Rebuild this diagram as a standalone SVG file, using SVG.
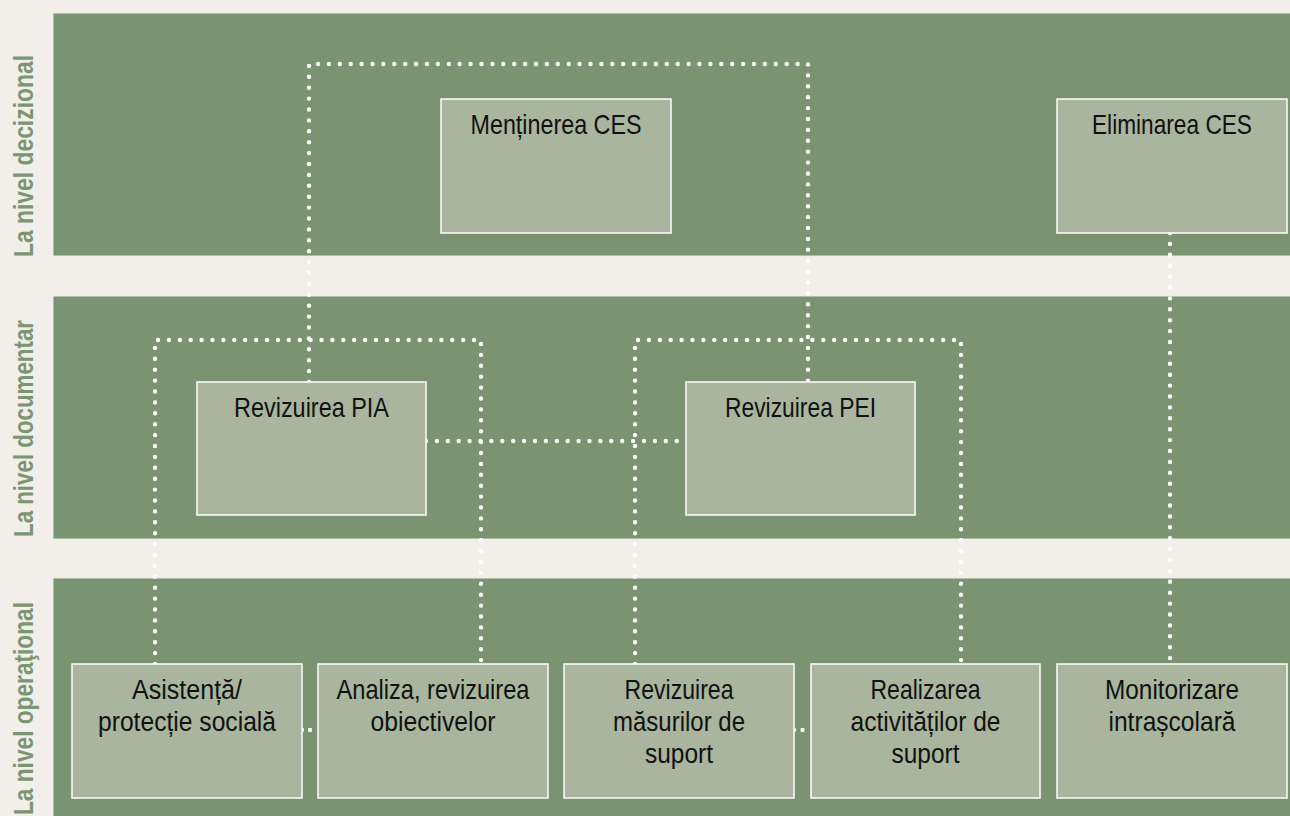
<svg xmlns="http://www.w3.org/2000/svg" width="1290" height="816" viewBox="0 0 1290 816">
  <style>
    .band { fill: #7a9370; stroke: #e9ebe4; stroke-width: 1; }
    .lbl { font-family: "Liberation Sans Narrow", "Liberation Sans", "DejaVu Sans Condensed", sans-serif; font-weight: bold; font-size: 28px; fill: #7d9672; }
    .box { fill: #a9b59d; stroke: #ffffff; stroke-width: 1.5; }
    .t { font-family: "Liberation Sans Narrow", "Liberation Sans", "DejaVu Sans Condensed", sans-serif; font-size: 27.5px; fill: #111111; text-anchor: middle; }
    .dot { fill: none; stroke: #ffffff; stroke-width: 4.4; stroke-linecap: round; stroke-dasharray: 0 10.9; }
  </style>
  <rect x="0" y="0" width="1290" height="816" fill="#f2efea"/>

  <g id="bands">
    <rect class="band" x="53" y="13" width="1240" height="243"/>
    <rect class="band" x="53" y="296" width="1240" height="243"/>
    <rect class="band" x="53" y="578" width="1240" height="245"/>
  </g>

  <g id="labels">
    <text class="lbl" transform="translate(33,257) rotate(-90)" textLength="202" lengthAdjust="spacingAndGlyphs">La nivel decizional</text>
    <text class="lbl" transform="translate(33,537) rotate(-90)" textLength="217" lengthAdjust="spacingAndGlyphs">La nivel documentar</text>
    <text class="lbl" transform="translate(33,815) rotate(-90)" textLength="213" lengthAdjust="spacingAndGlyphs">La nivel operaţional</text>
  </g>

  <g id="connectors">
    <path class="dot" d="M309,382 V64 H808 V382"/>
    <path class="dot" d="M155,664 V340 H481 V664"/>
    <path class="dot" d="M635,664 V340 H961 V664"/>
    <path class="dot" d="M426,441 H686"/>
    <path class="dot" d="M1170,233 V664"/>
    <path class="dot" d="M302,730 H318" style="stroke-dasharray:0 8"/>
    <path class="dot" d="M794,730 H811" style="stroke-dasharray:0 8.5"/>
  </g>

  <g id="node-mentinerea">
    <rect class="box" x="441" y="99" width="230" height="134"/>
    <text class="t" x="556" y="134" textLength="171" lengthAdjust="spacingAndGlyphs">Menținerea CES</text>
  </g>
  <g id="node-eliminarea">
    <rect class="box" x="1057" y="99" width="230" height="134"/>
    <text class="t" x="1172" y="134" textLength="160" lengthAdjust="spacingAndGlyphs">Eliminarea CES</text>
  </g>
  <g id="node-pia">
    <rect class="box" x="197" y="382" width="229" height="133"/>
    <text class="t" x="311.5" y="417" textLength="155" lengthAdjust="spacingAndGlyphs">Revizuirea PIA</text>
  </g>
  <g id="node-pei">
    <rect class="box" x="686" y="382" width="229" height="133"/>
    <text class="t" x="800.5" y="417" textLength="151" lengthAdjust="spacingAndGlyphs">Revizuirea PEI</text>
  </g>
  <g id="node-asistenta">
    <rect class="box" x="72" y="664" width="230" height="134"/>
    <text class="t" x="187" y="699" textLength="110" lengthAdjust="spacingAndGlyphs">Asistență/</text>
    <text class="t" x="187" y="731" textLength="178" lengthAdjust="spacingAndGlyphs">protecție socială</text>
  </g>
  <g id="node-analiza">
    <rect class="box" x="318" y="664" width="230" height="134"/>
    <text class="t" x="433" y="699" textLength="193" lengthAdjust="spacingAndGlyphs">Analiza, revizuirea</text>
    <text class="t" x="433" y="731" textLength="125" lengthAdjust="spacingAndGlyphs">obiectivelor</text>
  </g>
  <g id="node-masuri">
    <rect class="box" x="564" y="664" width="230" height="134"/>
    <text class="t" x="679" y="699" textLength="109" lengthAdjust="spacingAndGlyphs">Revizuirea</text>
    <text class="t" x="679" y="731" textLength="132" lengthAdjust="spacingAndGlyphs">măsurilor de</text>
    <text class="t" x="679" y="763" textLength="68" lengthAdjust="spacingAndGlyphs">suport</text>
  </g>
  <g id="node-realizarea">
    <rect class="box" x="811" y="664" width="229" height="134"/>
    <text class="t" x="925.5" y="699" textLength="110" lengthAdjust="spacingAndGlyphs">Realizarea</text>
    <text class="t" x="925.5" y="731" textLength="150" lengthAdjust="spacingAndGlyphs">activităților de</text>
    <text class="t" x="925.5" y="763" textLength="68" lengthAdjust="spacingAndGlyphs">suport</text>
  </g>
  <g id="node-monitorizare">
    <rect class="box" x="1057" y="664" width="230" height="134"/>
    <text class="t" x="1172" y="699" textLength="134" lengthAdjust="spacingAndGlyphs">Monitorizare</text>
    <text class="t" x="1172" y="731" textLength="127" lengthAdjust="spacingAndGlyphs">intrașcolară</text>
  </g>
</svg>
